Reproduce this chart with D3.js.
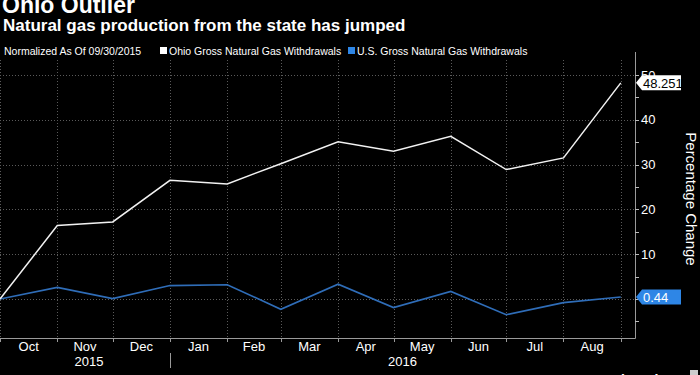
<!DOCTYPE html>
<html>
<head>
<meta charset="utf-8">
<script src="https://cdn.jsdelivr.net/npm/d3@7"></script>
<style>
  html, body { margin: 0; padding: 0; background: #000; }
  svg text { font-family: "Liberation Sans", Arial, sans-serif; fill: #fff; }
</style>
</head>
<body>
<div id="chart"></div>
<script>
// month starts, values normalized to 09/30/2015
var months = ["2015-10-01", "2015-11-01", "2015-12-01", "2016-01-01", "2016-02-01", "2016-03-01",
              "2016-04-01", "2016-05-01", "2016-06-01", "2016-07-01", "2016-08-01", "2016-09-01"];
var ohioValues = [0, 16.4, 17.2, 26.5, 25.7, 30.2, 35.1, 33.0, 36.3, 28.9, 31.5, 48.251];
var usValues = [0, 2.6, 0.1, 3.0, 3.2, -2.3, 3.3, -1.9, 1.7, -3.5, -0.8, 0.44];
var yTicks = [0, 10, 20, 30, 40, 50];
var seriesNames = ["Ohio Gross Natural Gas Withdrawals", "U.S. Gross Natural Gas Withdrawals"];

var width = 700, height = 375;
var plot = {left: 0, right: 635, top: 60, bottom: 338};

var parse = d3.timeParse("%Y-%m-%d");
var dates = months.map(parse);

var svg = d3.select("#chart").append("svg")
    .attr("width", width)
    .attr("height", height);

svg.append("rect").attr("width", width).attr("height", height).attr("fill", "#000");

var x = d3.scaleTime()
    .domain([parse("2015-10-01"), new Date(2016, 8, 8, 17)])
    .range([plot.left, plot.right]);

var y = d3.scaleLinear()
    .domain([-8.7, 53.35])
    .range([plot.bottom, plot.top]);

var monthStarts = d3.timeMonth.range(parse("2015-10-01"), parse("2016-09-02"));

// grid
var grid = svg.append("g").attr("stroke", "#5a5a5a").attr("stroke-width", 1)
    .attr("stroke-dasharray", "1,2");
grid.selectAll("line.v").data(monthStarts).enter().append("line")
    .attr("x1", function(d){ return Math.round(x(d)) + 0.5; })
    .attr("x2", function(d){ return Math.round(x(d)) + 0.5; })
    .attr("y1", plot.top).attr("y2", plot.bottom);
grid.selectAll("line.h").data(yTicks).enter().append("line")
    .attr("x1", plot.left).attr("x2", plot.right)
    .attr("y1", function(d){ return Math.round(y(d)) + 0.5; })
    .attr("y2", function(d){ return Math.round(y(d)) + 0.5; });

// axes lines
svg.append("line").attr("x1", plot.left).attr("x2", plot.right + 0.5)
    .attr("y1", plot.bottom + 0.5).attr("y2", plot.bottom + 0.5)
    .attr("stroke", "#9a9a9a").attr("stroke-width", 1);
svg.append("line").attr("x1", plot.right + 0.5).attr("x2", plot.right + 0.5)
    .attr("y1", plot.top - 8).attr("y2", plot.bottom + 0.5)
    .attr("stroke", "#9a9a9a").attr("stroke-width", 1);

// x ticks at month boundaries
svg.append("g").selectAll("line").data(monthStarts).enter().append("line")
    .attr("x1", function(d){ return Math.round(x(d)) + 0.5; })
    .attr("x2", function(d){ return Math.round(x(d)) + 0.5; })
    .attr("y1", plot.bottom).attr("y2", plot.bottom + 4)
    .attr("stroke", "#9a9a9a");

// month labels at mid-month
var labelMonths = monthStarts.slice(0, 11);
svg.append("g").selectAll("text").data(labelMonths).enter().append("text")
    .attr("x", function(d){ return (x(d) + x(d3.timeMonth.offset(d, 1))) / 2; })
    .attr("y", 351)
    .attr("text-anchor", "middle")
    .style("font-size", "13px")
    .text(d3.timeFormat("%b"));

// year labels and separator
var yearStart = parse("2016-01-01");
svg.append("line")
    .attr("x1", Math.round(x(yearStart)) + 0.5).attr("x2", Math.round(x(yearStart)) + 0.5)
    .attr("y1", 353).attr("y2", 368)
    .attr("stroke", "#9a9a9a");
svg.append("text").attr("x", (x(parse("2015-10-01")) + x(yearStart)) / 2 + 4).attr("y", 366)
    .attr("text-anchor", "middle").style("font-size", "13px").text("2015");
svg.append("text").attr("x", (x(yearStart) + plot.right) / 2).attr("y", 366)
    .attr("text-anchor", "middle").style("font-size", "13px").text("2016");

// y ticks (major + minor) on the right
var minor = d3.range(-5, 51, 5);
svg.append("g").selectAll("line").data(minor).enter().append("line")
    .attr("x1", plot.right).attr("x2", plot.right + 4)
    .attr("y1", function(d){ return Math.round(y(d)) + 0.5; })
    .attr("y2", function(d){ return Math.round(y(d)) + 0.5; })
    .attr("stroke", "#bbb");
svg.append("g").selectAll("text").data(yTicks.filter(function(d){ return d > 0; })).enter().append("text")
    .attr("x", plot.right + 6)
    .attr("y", function(d){ return y(d); })
    .attr("dy", "0.35em")
    .style("font-size", "13px")
    .text(function(d){ return d; });

svg.append("text")
    .attr("transform", "translate(686,199) rotate(90)")
    .attr("text-anchor", "middle")
    .style("font-size", "15px")
    .text("Percentage Change");

// lines
var line = d3.line()
    .x(function(d, i){ return x(dates[i]); })
    .y(function(d){ return y(d); });

svg.append("path").datum(usValues)
    .attr("d", line).attr("fill", "none")
    .attr("stroke", "#2f6db8").attr("stroke-width", 1.6);
svg.append("path").datum(ohioValues)
    .attr("d", line).attr("fill", "none")
    .attr("stroke", "#f2f2f2").attr("stroke-width", 1.5);

// last value callouts
function callout(value, fill, textFill) {
    var cy = y(value);
    var g = svg.append("g");
    var x0 = plot.right + 1, x1 = plot.right + 7, x2 = 681, h = 7.5;
    g.append("path")
        .attr("d", "M" + x0 + "," + cy + "L" + x1 + "," + (cy - h) + "L" + x2 + "," + (cy - h) +
                   "L" + x2 + "," + (cy + h) + "L" + x1 + "," + (cy + h) + "Z")
        .attr("fill", fill);
    g.append("text").attr("x", x1 + 1).attr("y", cy).attr("dy", "0.36em")
        .style("font-size", "13px").style("fill", textFill)
        .text(value);
}
callout(ohioValues[ohioValues.length - 1], "#ffffff", "#000");
callout(usValues[usValues.length - 1], "#2e86e6", "#fff");

// titles
svg.append("text").attr("x", 2).attr("y", 13)
    .style("font-size", "23px").style("font-weight", "bold").text("Ohio Outlier");
svg.append("text").attr("x", 3).attr("y", 31)
    .style("font-size", "17px").style("font-weight", "bold")
    .text("Natural gas production from the state has jumped");

// legend
svg.append("text").attr("x", 4).attr("y", 55).style("font-size", "10.5px")
    .text("Normalized As Of 09/30/2015");
var legendX = [160, 348];
var legendColors = ["#ffffff", "#2e86e6"];
seriesNames.forEach(function(name, i){
    svg.append("rect").attr("x", legendX[i]).attr("y", 47).attr("width", 7).attr("height", 7)
        .attr("fill", legendColors[i]);
    svg.append("text").attr("x", legendX[i] + 9).attr("y", 55).style("font-size", "10.5px").text(name);
});

// footer (cut off at the bottom)
svg.append("text").attr("x", 3).attr("y", 384)
    .style("font-size", "13px").style("font-weight", "bold")
    .text("Source: U.S. Energy Information Administration");
svg.append("text").attr("x", 611).attr("y", 385)
    .style("font-size", "14px").style("font-weight", "bold").text("Bloomberg");
svg.append("rect").attr("x", 690).attr("y", 370).attr("width", 8).attr("height", 8).attr("fill", "#ccc");
</script>
</body>
</html>
